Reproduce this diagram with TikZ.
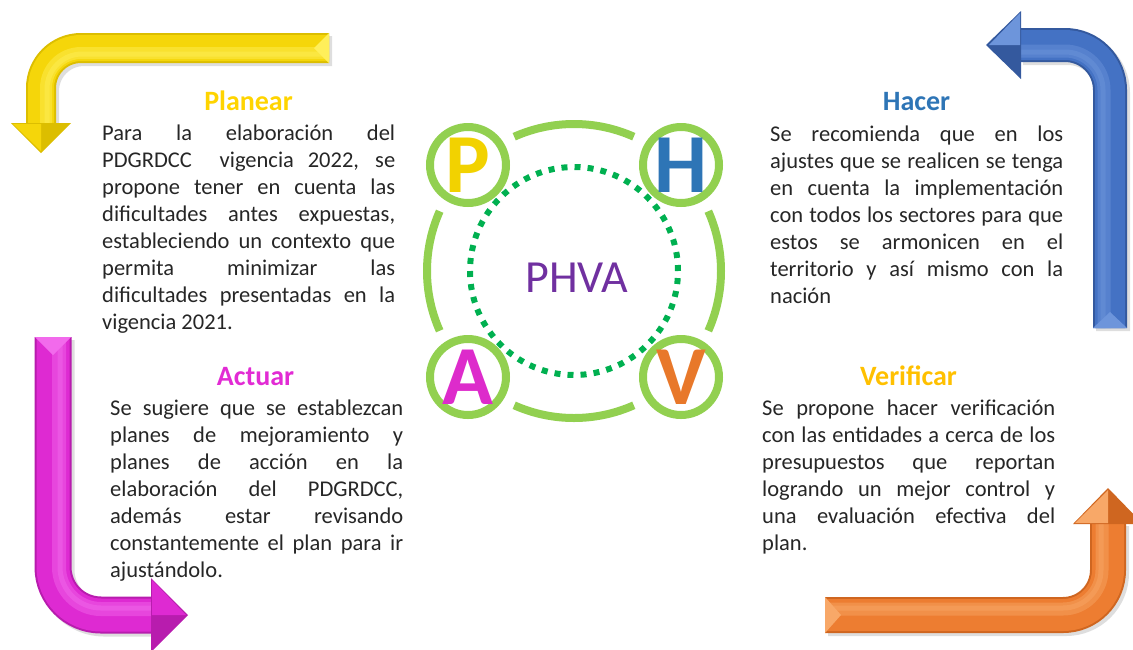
\documentclass[tikz,border=0pt]{standalone}
\usepackage{fontspec}
\setmainfont{Carlito}
\definecolor{ringgreen}{HTML}{92D050}
\definecolor{dotgreen}{HTML}{00B050}
\definecolor{ymain}{HTML}{F5D60A}
\definecolor{ydark}{HTML}{DCBE00}
\definecolor{ylight}{HTML}{FFEF5A}
\definecolor{bmain}{HTML}{4472C4}
\definecolor{bdark}{HTML}{34599E}
\definecolor{blight}{HTML}{6D95DB}
\definecolor{mmain}{HTML}{DE2AD2}
\definecolor{mdark}{HTML}{B81CAE}
\definecolor{mlight}{HTML}{F26AEC}
\definecolor{omain}{HTML}{ED7D31}
\definecolor{odark}{HTML}{CF6620}
\definecolor{olight}{HTML}{F8A868}
\definecolor{tplanear}{HTML}{FFD400}
\definecolor{thacer}{HTML}{2E75B6}
\definecolor{tactuar}{HTML}{E22BD4}
\definecolor{tverificar}{HTML}{FFC000}
\definecolor{lP}{HTML}{F2D200}
\definecolor{lH}{HTML}{2E75B6}
\definecolor{lA}{HTML}{DD2BCB}
\definecolor{lV}{HTML}{E8782A}
\definecolor{phva}{HTML}{7030A0}
\newcommand\bodytext[1]{\parbox[t]{293pt}{\fontsize{22.5}{27}\selectfont\tolerance=10000\hyphenpenalty=10000\parindent=0pt #1}}
\tikzset{
  ringarc/.style={draw=ringgreen, line width=8pt},
  smallring/.style={circle, draw=ringgreen, line width=8pt, minimum size=76pt, inner sep=0pt,
     font=\fontsize{84}{84}\selectfont\bfseries},
  dotring/.style={draw=dotgreen, line width=6pt, dash pattern=on 6pt off 7.07pt},
  titletext/.style={font=\fontsize{28}{30}\selectfont\bfseries, inner sep=0pt, anchor=base},
  bodynode/.style={inner sep=0pt, anchor=base west, text=black!85},
  shadowline/.style={draw=black, opacity=0.13},
  glow/.style={opacity=0.45},
}
\begin{document}
\begin{tikzpicture}[x=1pt,y=-1pt]
\useasboundingbox (0,0) rectangle (1133,649);
\clip (0,0) rectangle (1133,649);

% ---------- Yellow arrow (top left) ----------
\draw[shadowline, line width=30pt, rounded corners=40pt, xshift=3pt, yshift=-3pt] (329,48) -- (41,48) -- (41,124);
\draw[ydark, line width=30pt, rounded corners=40pt] (329,48) -- (41,48) -- (41,124);
\draw[ymain, line width=26pt, rounded corners=40pt] (329,48) -- (41,48) -- (41,124);
\draw[ylight, glow, line width=12pt, rounded corners=35pt] (329,53) -- (46,53) -- (46,124);
\draw[ylight, glow, line width=5pt, rounded corners=35pt] (329,54) -- (47,54) -- (47,124);
\fill[ydark] (11,123) -- (71,123) -- (41,153) -- cycle;
\fill[ymain] (13,124) -- (41,124) -- (41,151) -- cycle;
\fill[ylight] (329,33) -- (329,63) -- (314,48) -- cycle;

% ---------- Blue arrow (top right) ----------
\draw[shadowline, line width=34pt, rounded corners=45pt, xshift=3pt, yshift=-3pt] (1110,328) -- (1110,45) -- (1020,45);
\draw[bdark, line width=34pt, rounded corners=45pt] (1110,328) -- (1110,45) -- (1020,45);
\draw[bmain, line width=30pt, rounded corners=45pt] (1110,328) -- (1110,45) -- (1020,45);
\draw[blight, glow, line width=13pt, rounded corners=39pt] (1104,328) -- (1104,51) -- (1020,51);
\draw[blight, glow, line width=5pt, rounded corners=38pt] (1103,328) -- (1103,52) -- (1020,52);
\fill[bdark] (1021,11) -- (1021,79) -- (986,45) -- cycle;
\fill[blight] (1020,13) -- (1020,45) -- (989,45) -- cycle;
\fill[blight] (1093,328) -- (1127,328) -- (1110,312) -- cycle;

% ---------- Magenta arrow (bottom left) ----------
\draw[shadowline, line width=37pt, rounded corners=48pt, xshift=3pt, yshift=-3pt] (53,337) -- (53,615) -- (152,615);
\draw[mdark, line width=37pt, rounded corners=48pt] (53,337) -- (53,615) -- (152,615);
\draw[mmain, line width=33pt, rounded corners=48pt] (53,337) -- (53,615) -- (152,615);
\draw[mlight, glow, line width=14pt, rounded corners=42pt] (59,337) -- (59,609) -- (152,609);
\draw[mlight, glow, line width=5pt, rounded corners=41pt] (60,337) -- (60,608) -- (152,608);
\fill[mdark] (151,578) -- (151,652) -- (188,615) -- cycle;
\fill[mmain] (152,580) -- (152,615) -- (186,615) -- cycle;
\fill[mlight] (35,337) -- (71,337) -- (53,355) -- cycle;

% ---------- Orange arrow (bottom right) ----------
\draw[shadowline, line width=36pt, rounded corners=45pt, xshift=3pt, yshift=-3pt] (825,615) -- (1108,615) -- (1108,523);
\draw[odark, line width=36pt, rounded corners=45pt] (825,615) -- (1108,615) -- (1108,523);
\draw[omain, line width=32pt, rounded corners=45pt] (825,615) -- (1108,615) -- (1108,523);
\draw[olight, glow, line width=13pt, rounded corners=39pt] (825,609) -- (1102,609) -- (1102,523);
\draw[olight, glow, line width=5pt, rounded corners=38pt] (825,608) -- (1101,608) -- (1101,523);
\fill[odark] (1073,524) -- (1143,524) -- (1108,488) -- cycle;
\fill[olight] (1075,523) -- (1108,523) -- (1108,490) -- cycle;
\fill[olight] (825,597) -- (825,633) -- (841,615) -- cycle;

% ---------- Central PHVA diagram ----------
\coordinate (C) at (574,271);
\draw[ringarc] (C) ++(66:147pt) arc[start angle=66, end angle=114, radius=147pt];
\draw[ringarc] (C) ++(156:147pt) arc[start angle=156, end angle=204, radius=147pt];
\draw[ringarc] (C) ++(246:147pt) arc[start angle=246, end angle=294, radius=147pt];
\draw[ringarc] (C) ++(-24:147pt) arc[start angle=-24, end angle=24, radius=147pt];

\node[smallring, text=lP] (cP) at (468,165) {P};
\node[smallring, text=lH] (cH) at (681,165) {H};
\node[smallring, text=lA] (cA) at (468,377) {A};
\node[smallring, text=lV] (cV) at (681,377) {V};

\draw[dotring] (C) circle (104pt);
\node[inner sep=0pt, text=phva, font=\fontsize{46}{46}\selectfont] (phva) at (577,278) {PHVA};

% ---------- Texts ----------
\node[titletext, text=tplanear] (tP) at (248.5,110) {Planear};
\node[bodynode] (bP) at (102,140) {\bodytext{Para la elaboración del\linebreak
PDGRDCC \ vigencia 2022, se\linebreak
propone tener en cuenta las\linebreak
dificultades antes expuestas,\linebreak
estableciendo un contexto que\linebreak
permita minimizar las\linebreak
dificultades presentadas en la\linebreak
vigencia 2021.}};

\node[titletext, text=thacer] (tH) at (916.5,110) {Hacer};
\node[bodynode] (bH) at (770,141) {\bodytext{Se recomienda que en los\linebreak
ajustes que se realicen se tenga\linebreak
en cuenta la implementación\linebreak
con todos los sectores para que\linebreak
estos se armonicen en el\linebreak
territorio y así mismo con la\linebreak
nación}};

\node[titletext, text=tactuar] (tA) at (255.5,385) {Actuar};
\node[bodynode] (bA) at (110,415) {\bodytext{Se sugiere que se establezcan\linebreak
planes de mejoramiento y\linebreak
planes de acción en la\linebreak
elaboración del PDGRDCC,\linebreak
además estar revisando\linebreak
constantemente el plan para ir\linebreak
ajustándolo.}};

\node[titletext, text=tverificar] (tV) at (908.5,385) {Verificar};
\node[bodynode] (bV) at (762,415) {\bodytext{Se propone hacer verificación\linebreak
con las entidades a cerca de los\linebreak
presupuestos que reportan\linebreak
logrando un mejor control y\linebreak
una evaluación efectiva del\linebreak
plan.}};
\end{tikzpicture}
\end{document}
